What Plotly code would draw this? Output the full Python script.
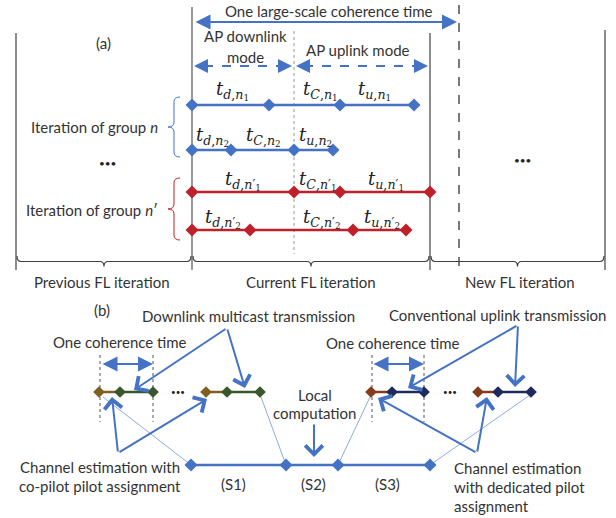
import plotly.graph_objects as go

W, H = 616, 518
BLUE = "#4472C4"
LIGHTBLUE = "#8FAADC"
RED = "#C0202A"
TXT = "#333333"
FONT = "Lato"
MATH = "DejaVu Serif"

# ---------------- (a) timeline rows ----------------
row_y = [105, 150, 192, 230]
row_colors = [BLUE, BLUE, RED, RED]
row_x = [
    [192, 269, 340, 414],
    [192, 231, 294, 333],
    [192, 294, 340, 430],
    [192, 250, 353, 406],
]
row_label_text = [
    ["<i>t</i><sub><i>d</i>,<i>n</i><sub>1</sub></sub>",
     "<i>t</i><sub><i>C</i>,<i>n</i><sub>1</sub></sub>",
     "<i>t</i><sub><i>u</i>,<i>n</i><sub>1</sub></sub>"],
    ["<i>t</i><sub><i>d</i>,<i>n</i><sub>2</sub></sub>",
     "<i>t</i><sub><i>C</i>,<i>n</i><sub>2</sub></sub>",
     "<i>t</i><sub><i>u</i>,<i>n</i><sub>2</sub></sub>"],
    ["<i>t</i><sub><i>d</i>,<i>n</i>′<sub>1</sub></sub>",
     "<i>t</i><sub><i>C</i>,<i>n</i>′<sub>1</sub></sub>",
     "<i>t</i><sub><i>u</i>,<i>n</i>′<sub>1</sub></sub>"],
    ["<i>t</i><sub><i>d</i>,<i>n</i>′<sub>2</sub></sub>",
     "<i>t</i><sub><i>C</i>,<i>n</i>′<sub>2</sub></sub>",
     "<i>t</i><sub><i>u</i>,<i>n</i>′<sub>2</sub></sub>"],
]
row_label_x = [[232, 320, 374], [212, 263, 315], [243, 318, 386], [223, 322, 382]]
row_label_y = [90, 136, 180, 218]

# ---------------- (b) coherence-block rows ----------------
b_y = 392
b_groups_left = [[99, 120, 153], [206, 227, 260]]
b_groups_right = [[371, 392, 424], [478, 498, 531]]
B_BROWN_L, B_GREEN = "#7F6024", "#38572A"
B_BROWN_R, B_NAVY = "#843C1C", "#1F2A5C"

s_y = 465
s_x = [191, 286, 338, 430]
s_labels = ["(S1)", "(S2)", "(S3)"]
s_label_x = [233, 313, 387]

fig = go.Figure()

# thin light connector lines (b)
connectors = [((103, 397), (191, 465)), ((261, 397), (286, 465)),
              ((370, 397), (338, 465)), ((530, 395), (430, 465))]
for (x0, y0), (x1, y1) in connectors:
    fig.add_trace(go.Scatter(x=[x0, x1], y=[y0, y1], mode="lines",
                             line=dict(color=LIGHTBLUE, width=1), hoverinfo="skip", showlegend=False))

for xs, y, c in zip(row_x, row_y, row_colors):
    fig.add_trace(go.Scatter(x=xs, y=[y] * len(xs), mode="lines+markers",
                             line=dict(color=c, width=2.5),
                             marker=dict(symbol="diamond", size=10, color=c),
                             hoverinfo="skip", showlegend=False))

for groups, cb, cg in [(b_groups_left, B_BROWN_L, B_GREEN), (b_groups_right, B_BROWN_R, B_NAVY)]:
    for g in groups:
        fig.add_trace(go.Scatter(x=g[:2], y=[b_y] * 2, mode="lines",
                                 line=dict(color=cb, width=2.5), hoverinfo="skip", showlegend=False))
        fig.add_trace(go.Scatter(x=g[1:], y=[b_y] * 2, mode="lines",
                                 line=dict(color=cg, width=2.5), hoverinfo="skip", showlegend=False))
        fig.add_trace(go.Scatter(x=g, y=[b_y] * 3, mode="markers",
                                 marker=dict(symbol="diamond", size=9, color=[cb, cg, cg]),
                                 hoverinfo="skip", showlegend=False))

fig.add_trace(go.Scatter(x=s_x, y=[s_y] * len(s_x), mode="lines+markers",
                         line=dict(color=BLUE, width=2.5),
                         marker=dict(symbol="diamond", size=10, color=BLUE),
                         hoverinfo="skip", showlegend=False))

shapes = []
def vline(x, y0, y1, color="#404040", width=1.2, dash="solid"):
    shapes.append(dict(type="line", xref="x", yref="y", x0=x, x1=x, y0=y0, y1=y1,
                       line=dict(color=color, width=width, dash=dash), layer="below"))

vline(16, 33, 270)
vline(192, 7, 270, color="#7F7F7F", width=1.6)
vline(430, 33, 270)
vline(605, 30, 270)
vline(459, 5, 270, color="#222222", width=1.2, dash="dash")
vline(294, 31, 254, color="#999999", width=1, dash="dot")
for xv in [100, 153, 372, 424]:
    vline(xv, 355, 422, color="#555555", width=1, dash="dot")

# dashed mode arrows
for x0, x1 in [(204, 284), (304, 418)]:
    shapes.append(dict(type="line", xref="x", yref="y", x0=x0, x1=x1, y0=66, y1=66,
                       line=dict(color=BLUE, width=2, dash="dash")))

def vbrace(x_end, x_spine, x_tip, y0, y1, color):
    ym = (y0 + y1) / 2
    r = 5
    p = (f"M{x_end},{y0} Q{x_spine},{y0} {x_spine},{y0+r} L{x_spine},{ym-r} "
         f"Q{x_spine},{ym} {x_tip},{ym} Q{x_spine},{ym} {x_spine},{ym+r} "
         f"L{x_spine},{y1-r} Q{x_spine},{y1} {x_end},{y1}")
    shapes.append(dict(type="path", xref="x", yref="y", path=p, line=dict(color=color, width=1)))

def hbrace(x0, x1, y_end, y_spine, y_tip, color="#404040"):
    xm = (x0 + x1) / 2
    r = 4
    p = (f"M{x0},{y_end} Q{x0},{y_spine} {x0+r},{y_spine} L{xm-r},{y_spine} "
         f"Q{xm},{y_spine} {xm},{y_tip} Q{xm},{y_spine} {xm+r},{y_spine} "
         f"L{x1-r},{y_spine} Q{x1},{y_spine} {x1},{y_end}")
    shapes.append(dict(type="path", xref="x", yref="y", path=p, line=dict(color=color, width=1.2)))

vbrace(180, 174, 168, 97, 157, BLUE)
vbrace(180, 174, 168, 178, 240, RED)
hbrace(17, 191, 256, 261.5, 266.5)
hbrace(193, 429, 256, 261.5, 266.5)
hbrace(431, 604, 256, 261.5, 266.5)

ann = []
def text(t, x, y, size=15, family=FONT, color=TXT, xanchor="center"):
    ann.append(dict(text=t, x=x, y=y, xref="x", yref="y", showarrow=False,
                    font=dict(family=family, size=size, color=color),
                    xanchor=xanchor, yanchor="middle"))

def arrow(x, y, ax, ay, head=2, side="end", width=2, size=1.5, color=BLUE):
    ann.append(dict(text="", x=x, y=y, ax=ax, ay=ay, xref="x", yref="y", axref="x", ayref="y",
                    showarrow=True, arrowhead=head, startarrowhead=head, arrowside=side,
                    arrowwidth=width, arrowsize=size, startarrowsize=size, arrowcolor=color))

text("One large-scale coherence time", 328, 11)
arrow(457, 22, 194, 22, side="end+start")
text("(a)", 103, 43)
text("AP downlink", 245, 36)
text("mode", 245, 57)
text("AP uplink mode", 358, 50)
arrow(194, 66, 206, 66, size=1.4)
arrow(292, 66, 280, 66, size=1.4)
arrow(296, 66, 308, 66, size=1.4)
arrow(428, 66, 416, 66, size=1.4)

for labels, xs, y in zip(row_label_text, row_label_x, row_label_y):
    for t, x in zip(labels, xs):
        text(t, x, y, size=18, family=MATH, color="#222222")

text("Iteration of group <i>n</i>", 94, 127)
text("Iteration of group <i>n</i>′", 92, 210)
text("•••", 107, 163, size=10, color="#222222")
text("•••", 522, 160, size=10, color="#222222")
text("Previous FL iteration", 102, 282)
text("Current FL iteration", 311, 282)
text("New FL iteration", 520, 282)

# (b)
text("(b)", 102, 310)
text("Downlink multicast transmission", 248, 316)
text("Conventional uplink transmission", 497, 315)
text("One coherence time", 120, 342)
text("One coherence time", 393, 343)
arrow(153, 364, 101, 364, side="end+start")
arrow(424, 364, 372, 364, side="end+start")
text("•••", 178, 392, size=8, color="#222222")
text("•••", 450, 392, size=8, color="#222222")
text("Local", 315, 395)
text("computation", 315, 413)
arrow(314, 457, 314, 423, head=4, size=1.7)
for t, x in zip(s_labels, s_label_x):
    text(t, x, 484)
text("Channel estimation with", 100, 467)
text("co-pilot pilot assignment", 100, 486)
text("Channel estimation", 452, 468, xanchor="left")
text("with dedicated pilot", 452, 487, xanchor="left")
text("assignment", 452, 506, xanchor="left")

callouts = [
    ((134, 390), (227, 328)), ((245, 388), (227, 328)),
    ((408, 388), (518, 325)), ((515, 387), (518, 325)),
    ((112, 397), (118, 453)), ((207, 399), (118, 453)),
    ((378, 398), (477, 453)), ((487, 397), (477, 453)),
]
for (x, y), (ax, ay) in callouts:
    arrow(x, y, ax, ay, head=4, size=1.7)

fig.update_layout(
    width=W, height=H, autosize=False,
    margin=dict(l=0, r=0, t=0, b=0),
    paper_bgcolor="white", plot_bgcolor="white",
    xaxis=dict(range=[0, W], visible=False, fixedrange=True),
    yaxis=dict(range=[H, 0], visible=False, fixedrange=True),
    shapes=shapes, annotations=ann, showlegend=False,
)

fig.write_html("out.html", config={"displayModeBar": False},
               post_script="document.body.style.margin='0';")
